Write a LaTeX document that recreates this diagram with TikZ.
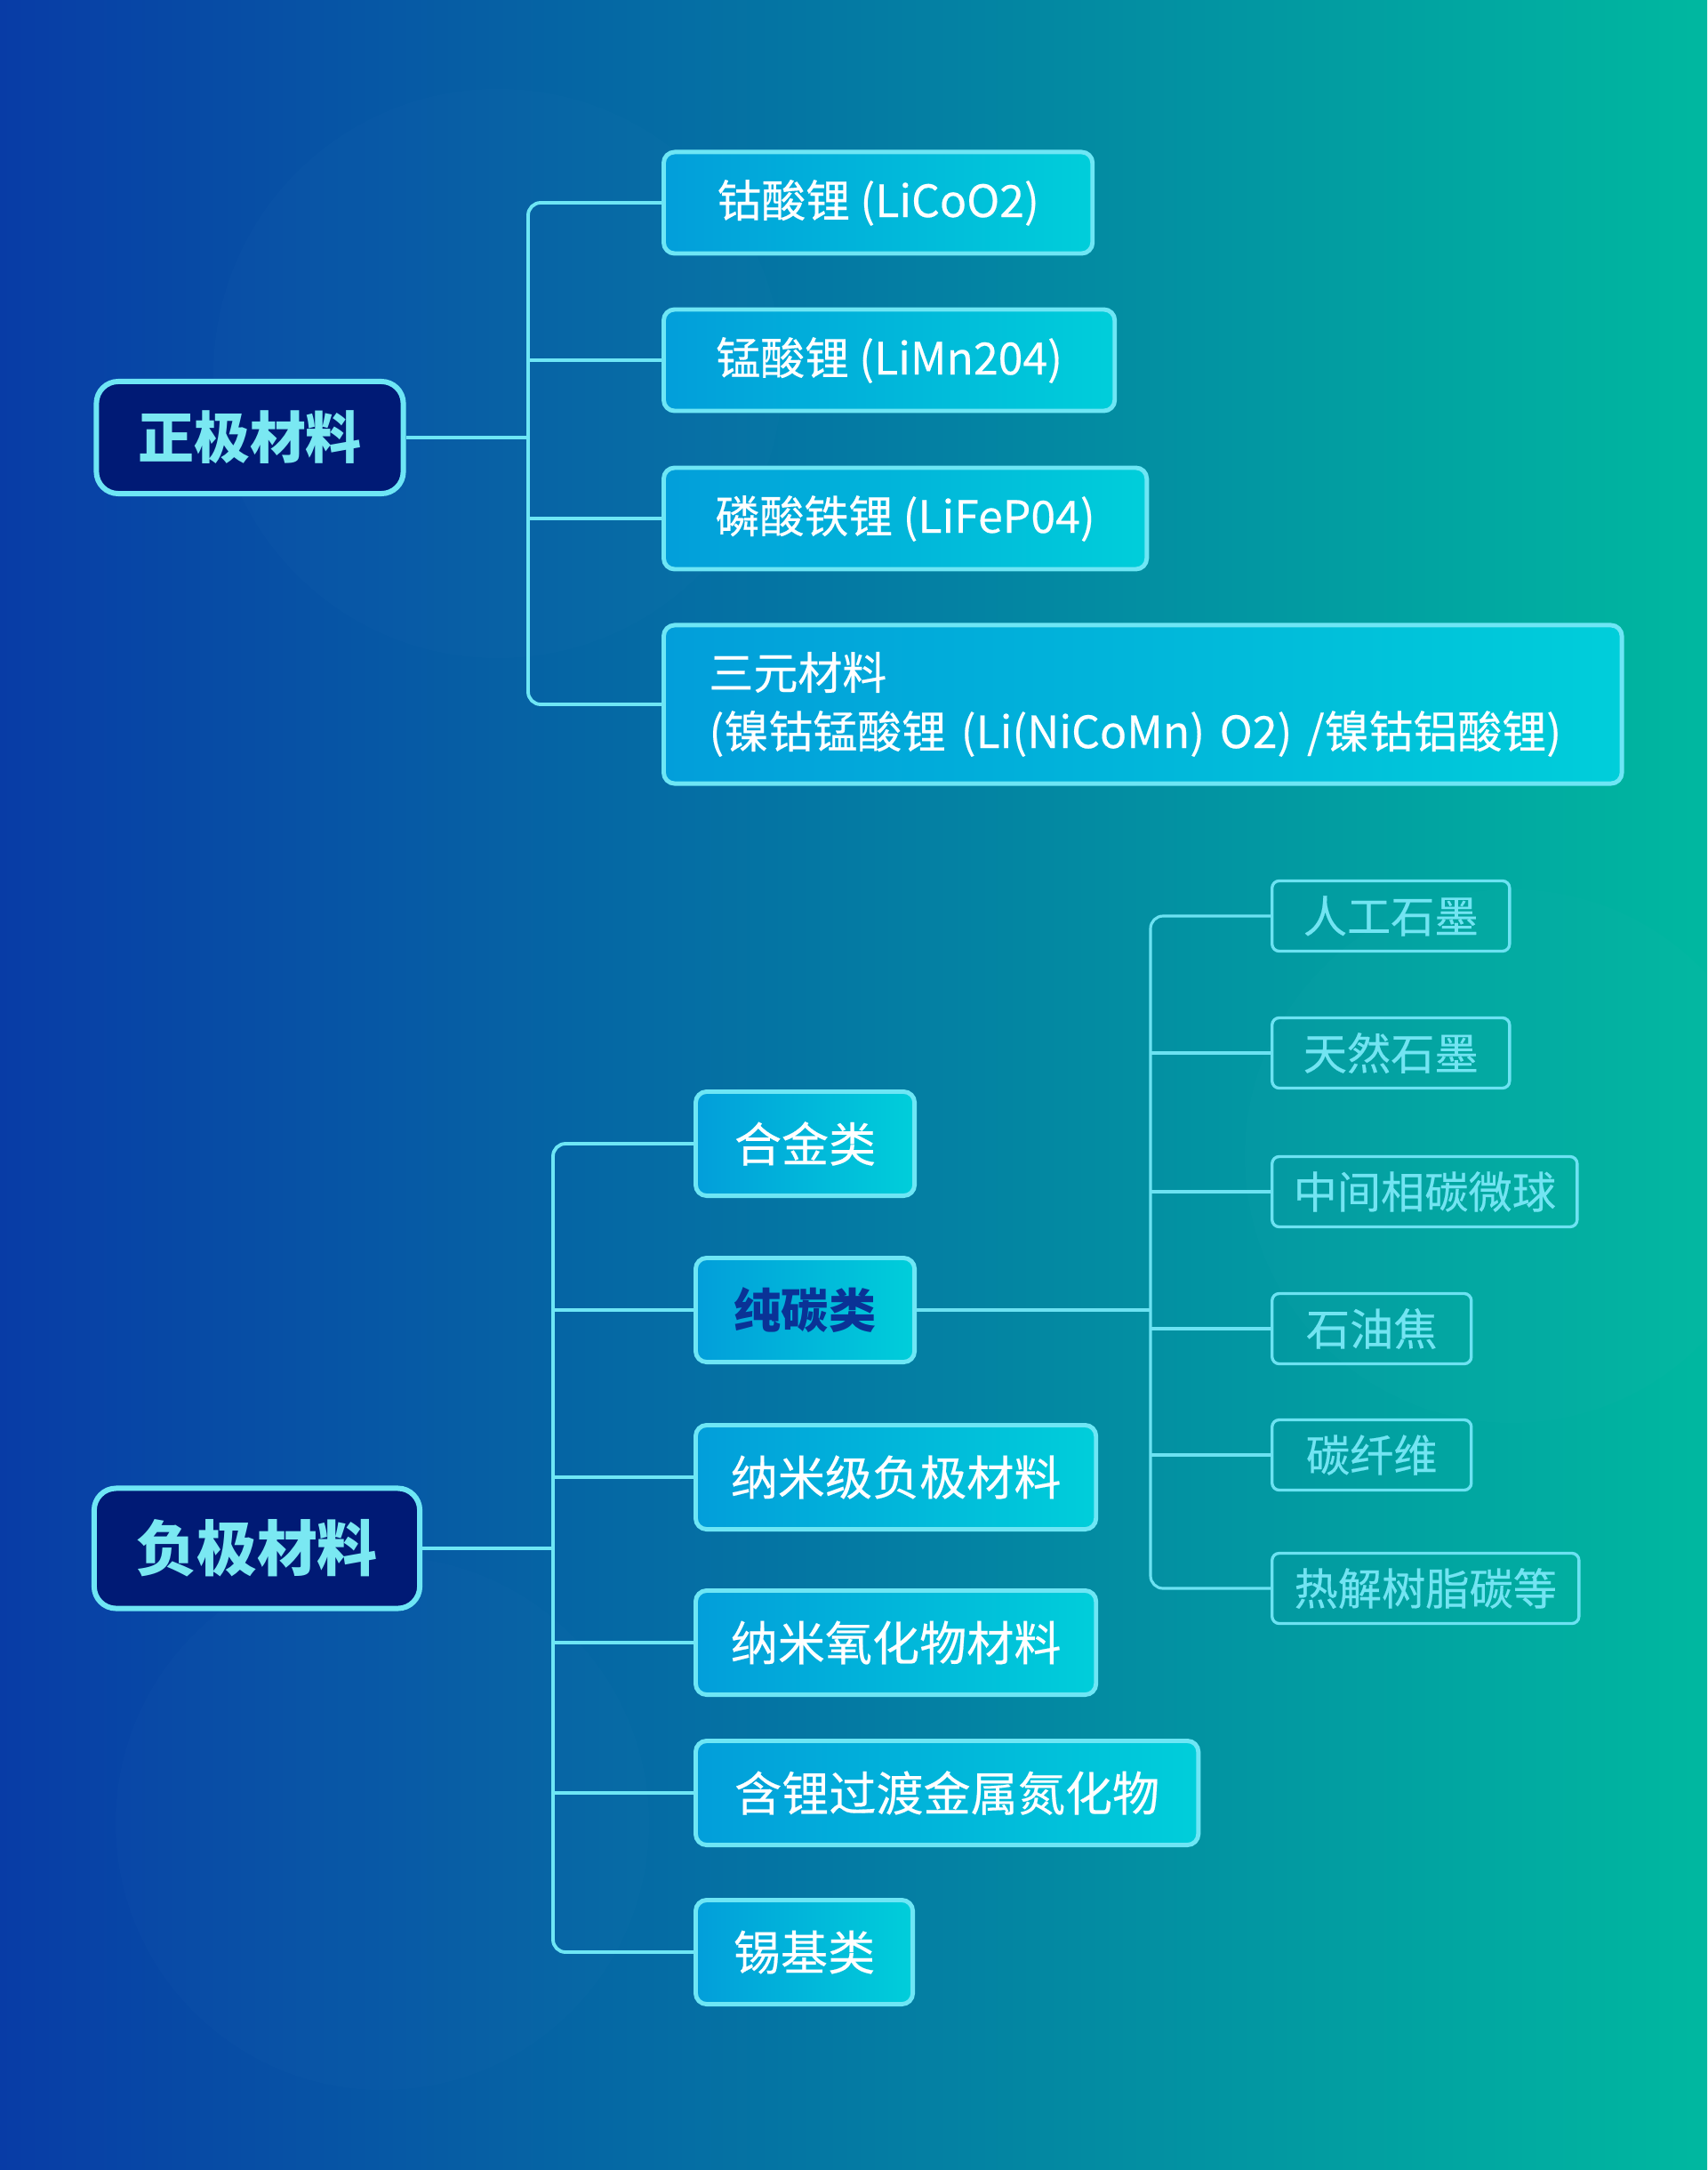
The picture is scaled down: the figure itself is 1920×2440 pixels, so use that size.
\documentclass[tikz,border=0pt]{standalone}
\usepackage{fontspec}
\setmainfont{Noto Sans CJK SC}
\newfontfamily\medfont{Noto Sans CJK SC}[FakeBold=0.35]
\usetikzlibrary{positioning}

\definecolor{bgblue}{RGB}{8,60,166}
\definecolor{bgteal}{RGB}{0,184,160}
\definecolor{linecyan}{RGB}{110,230,245}
\definecolor{rootfill}{RGB}{0,26,117}
\definecolor{roottext}{RGB}{122,232,242}
\definecolor{boxleft}{RGB}{2,158,218}
\definecolor{boxright}{RGB}{0,206,218}
\definecolor{carbontext}{RGB}{10,50,150}
\definecolor{leafline}{RGB}{108,226,242}
\definecolor{leaftext}{RGB}{114,228,242}

\begin{document}
\begin{tikzpicture}[x=0.01cm,y=-0.01cm,
    root/.style={draw=linecyan,line width=1.7pt,fill=rootfill,rounded corners=7pt,text=roottext},
    cbox/.style={draw=linecyan,line width=1.4pt,left color=boxleft,right color=boxright,rounded corners=3.5pt,text=white,anchor=west},
    upbox/.style={cbox,minimum height=1.14cm,font=\medfont\fontsize{14.2}{18.8}\selectfont},
    lowbox/.style={cbox,minimum height=1.17cm,font=\medfont\fontsize{15.1}{18}\selectfont},
    leaf/.style={draw=leafline,line width=0.95pt,rounded corners=2.3pt,text=leaftext,anchor=west,
      minimum height=0.79cm,font=\medfont\fontsize{14}{17}\selectfont},
    link/.style={draw=linecyan,line width=1.1pt,rounded corners=4pt},
    sublink/.style={draw=leafline,line width=0.9pt,rounded corners=4pt}]
    % background
    \useasboundingbox (0,0) rectangle (1920,2440);
    \shade[left color=bgblue,right color=bgteal] (0,0) rectangle (1920,2440);
    \fill[white,opacity=0.012] (560,420) circle (320);
    \fill[white,opacity=0.012] (1700,1300) circle (300);
    \fill[white,opacity=0.012] (430,2050) circle (300);

    % positive electrode
    \node[root,minimum width=3.45cm,minimum height=1.26cm,font=\fontsize{17.9}{20}\selectfont\bfseries] (pos) at (281,492) {正极材料};
    \node[upbox,minimum width=4.82cm] (licoo) at (744,228) {钴酸锂 (LiCoO2)};
    \node[upbox,minimum width=5.07cm] (limn)  at (744,405) {锰酸锂 (LiMn204)};
    \node[upbox,minimum width=5.43cm] (lifep) at (744,583) {磷酸铁锂 (LiFeP04)};
    \node[upbox,minimum height=1.78cm,text width=9.75cm,inner xsep=0.51cm,align=left] (ternary) at (744,792)
      {三元材料\\(镍钴锰酸锂 (Li(NiCoMn) O2) /镍钴铝酸锂)};
    \coordinate (pj) at (594,492);
    \draw[link] (pos.east) -- (pj);
    \draw[link] (licoo.west) -| (pj) |- (ternary.west);
    \draw[link] (pj |- limn.west) -- (limn.west);
    \draw[link] (pj |- lifep.west) -- (lifep.west);

    % negative electrode
    \node[root,minimum width=3.66cm,minimum height=1.35cm,font=\fontsize{19.3}{22}\selectfont\bfseries] (neg) at (289,1741) {负极材料};
    \node[lowbox,minimum width=2.46cm] (alloy)   at (780,1286) {合金类};
    \node[lowbox,minimum width=2.46cm,text=carbontext,font=\fontsize{15.1}{18}\selectfont\bfseries] (carbon) at (780,1473) {纯碳类};
    \node[lowbox,minimum width=4.50cm] (nanoneg) at (780,1661) {纳米级负极材料};
    \node[lowbox,minimum width=4.50cm] (nanoox)  at (780,1847) {纳米氧化物材料};
    \node[lowbox,minimum width=5.65cm] (nitride) at (780,2016) {含锂过渡金属氮化物};
    \node[lowbox,minimum width=2.44cm] (tin)     at (780,2195) {锡基类};
    \coordinate (nj) at (622,1741);
    \draw[link] (neg.east) -- (nj);
    \draw[link] (alloy.west) -| (nj) |- (tin.west);
    \draw[link] (nj |- carbon.west)  -- (carbon.west);
    \draw[link] (nj |- nanoneg.west) -- (nanoneg.west);
    \draw[link] (nj |- nanoox.west)  -- (nanoox.west);
    \draw[link] (nj |- nitride.west) -- (nitride.west);

    % carbon kinds
    \node[leaf,minimum width=2.67cm] (artg)  at (1429,1030) {人工石墨};
    \node[leaf,minimum width=2.67cm] (natg)  at (1429,1184) {天然石墨};
    \node[leaf,minimum width=3.43cm] (mcmb)  at (1429,1340) {中间相碳微球};
    \node[leaf,minimum width=2.24cm] (coke)  at (1429,1494) {石油焦};
    \node[leaf,minimum width=2.24cm] (fiber) at (1429,1636) {碳纤维};
    \node[leaf,minimum width=3.45cm] (resin) at (1429,1786) {热解树脂碳等};
    \coordinate (cj) at (1294,1473);
    \draw[sublink] (carbon.east) -- (cj);
    \draw[sublink] (artg.west) -| (cj) |- (resin.west);
    \draw[sublink] (cj |- natg.west)  -- (natg.west);
    \draw[sublink] (cj |- mcmb.west)  -- (mcmb.west);
    \draw[sublink] (cj |- coke.west)  -- (coke.west);
    \draw[sublink] (cj |- fiber.west) -- (fiber.west);
\end{tikzpicture}
\end{document}
